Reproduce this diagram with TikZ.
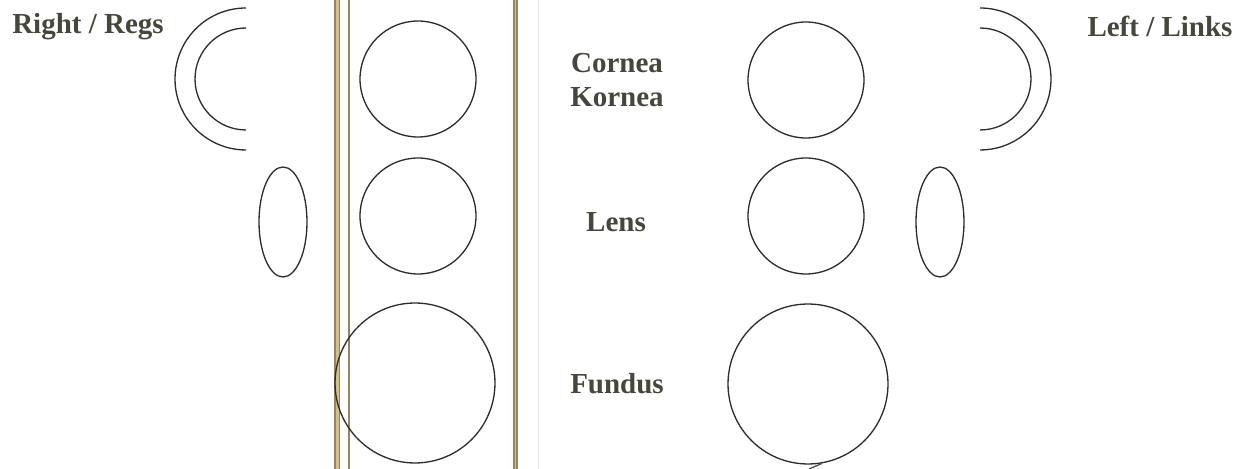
\documentclass[tikz,border=0pt]{standalone}
\usepackage{fontspec}
\setmainfont{Liberation Serif}
\usetikzlibrary{shapes.geometric}
\definecolor{ink}{RGB}{70,70,60}
\definecolor{pen}{RGB}{45,45,45}
\definecolor{goldline}{RGB}{210,192,140}
\definecolor{goldedge}{RGB}{150,134,92}
\tikzset{
	ring/.style={draw=pen, circle, line width=0.75pt, inner sep=0pt},
	small/.style={ring, minimum size=2.32cm},
	big/.style={ring, minimum size=3.2cm},
	lid/.style={draw=pen, ellipse, line width=0.75pt, inner sep=0pt,
		minimum width=0.96cm, minimum height=2.2cm},
	brow/.style={draw=pen, line width=0.75pt},
	rail/.style={line width=0.1cm, goldline},
	seam/.style={line width=0.03cm, goldedge},
	lbl/.style={text=ink, font=\fontsize{16.5}{19}\selectfont\bfseries, align=center, inner sep=0pt},
}

\begin{document}
\begin{tikzpicture}[x=0.02cm, y=-0.02cm]
	\useasboundingbox (0,0) rectangle (1245,469);
	% rails of the form
	\draw[rail] (337,0) -- (337,469);
	\draw[seam] (335,0) -- (335,469);
	\draw[seam] (339.5,0) -- (339.5,469);
	\draw[seam] (349,0) -- (349,469);
	\draw[rail, line width=0.08cm] (515.5,0) -- (515.5,469);
	\draw[seam] (514,0) -- (514,469);
	\draw[seam] (517,0) -- (517,469);
	\draw[black!10, line width=0.02cm] (538,0) -- (538,469);
	% headings
	\node[lbl] at (88,27) (right) {Right / Regs};
	\node[lbl] at (1160,26) (left) {Left / Links};
	\node[lbl] at (617,80) (cornea) {Cornea\\Kornea};
	\node[lbl] at (616,222) (lens) {Lens};
	\node[lbl] at (617,384) (fundus) {Fundus};
	% right eye
	\node[small] at (418,79) (rcor) {};
	\node[small] at (418,216) (rlens) {};
	\node[big] at (415,383) (rfund) {};
	\node[lid] at (283,222) (rlid) {};
	\draw[brow] (246,8) arc[start angle=90, end angle=270, radius=1.42cm];
	\draw[brow] (246,28) arc[start angle=90, end angle=270, radius=1.02cm];
	% left eye
	\node[small] at (806,80) (lcor) {};
	\node[small] at (806,216) (llens) {};
	\node[big] at (808,384) (lfund) {};
	\node[lid] at (940,222) (llid) {};
	\draw[brow] (980,8) arc[start angle=90, end angle=-90, radius=1.42cm];
	\draw[brow] (980,28) arc[start angle=90, end angle=-90, radius=1.02cm];
	\coordinate (tick) at (809,469);
	\draw[pen!80, line width=0.8pt] (lfund.-80) -- (tick);
\end{tikzpicture}
\end{document}
